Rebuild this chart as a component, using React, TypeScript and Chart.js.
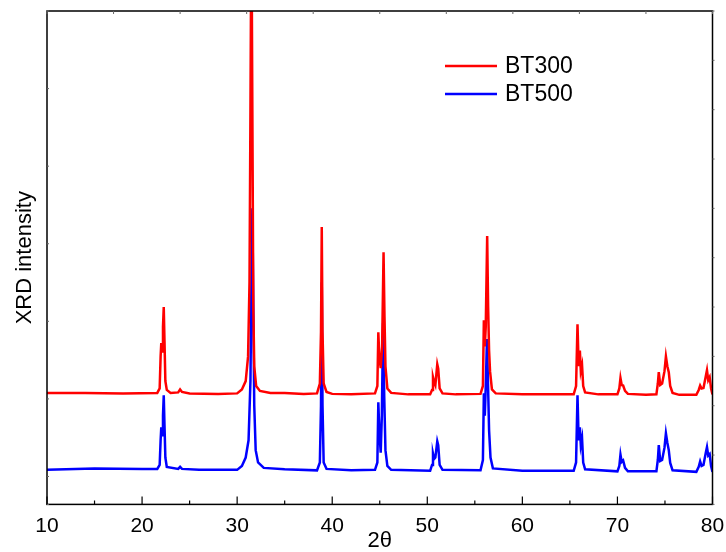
import React, { useEffect, useRef } from "react";
import { Chart, registerables } from "chart.js";

Chart.register(...registerables);

const seriesLabels = ["BT300", "BT500"];
const seriesColors = ["#ff0000", "#0000ff"];
const xTitle = "2θ";
const yTitle = "XRD intensity";
const xMin = 10;
const xMax = 80;
const xStep = 10;
const yMin = 0;
const yMax = 100;

const bt300TwoTheta = [
  10, 14, 18, 21.6, 21.85, 21.95, 22.02, 22.1, 22.2, 22.28, 22.36, 22.45, 22.6, 23.0, 23.8, 24.0, 24.2, 25, 28,
  30.0, 30.5, 30.9, 31.15, 31.3, 31.4, 31.5, 31.6, 31.7, 31.8, 32.0, 32.4, 33.5, 35, 37,
  38.4, 38.7, 38.82, 38.9, 38.98, 39.1, 39.4, 40, 42,
  44.5, 44.75, 44.85, 44.95, 45.1, 45.25, 45.4, 45.5, 45.6, 45.8, 46.2, 48,
  50.3, 50.5, 50.6, 50.7, 50.85, 51.05, 51.15, 51.3, 51.6, 53,
  55.6, 55.85, 55.95, 56.05, 56.15, 56.3, 56.4, 56.5, 56.6, 56.8, 57.2, 60,
  65.4, 65.65, 65.8, 65.92, 66.05, 66.15, 66.28, 66.4, 66.6, 68,
  70.0, 70.2, 70.32, 70.45, 70.6, 70.8, 71.1, 73,
  74.1, 74.25, 74.35, 74.5, 74.7, 74.95, 75.1, 75.25, 75.4, 75.55, 75.8, 76.5,
  78.3, 78.55, 78.7, 78.85, 79.05, 79.3, 79.42, 79.55, 79.7, 79.85, 80,
];
const bt300Intensity = [
  22.6, 22.6, 22.5, 22.6, 23.5, 30, 32.7, 31, 36, 40.0, 33, 25, 23.2, 22.6, 22.7, 23.3, 22.8, 22.5, 22.4,
  22.5, 23.3, 25.0, 30, 45, 80, 120, 80, 40, 28, 24.0, 23.0, 22.6, 22.6, 22.4,
  22.5, 24.5, 35, 56.2, 35, 24.5, 22.8, 22.4, 22.3,
  22.5, 24, 34.9, 30, 27.6, 32, 51.1, 38, 28, 23.5, 22.6, 22.3,
  22.3, 23.2, 25.8, 25, 24.2, 28.4, 27.5, 23.5, 22.5, 22.3,
  22.4, 24, 37.3, 32, 36, 54.4, 40, 31.2, 27, 23.3, 22.5, 22.3,
  22.3, 24, 36.5, 28, 31.2, 27, 28.2, 24, 22.7, 22.3,
  22.3, 23.5, 25.6, 24.2, 24.1, 23, 22.4, 22.2,
  22.3, 24.5, 26.8, 24.2, 24.5, 27, 30.0, 28, 26.8, 24, 22.6, 22.2,
  22.2, 23.2, 24.1, 23.5, 23.6, 26, 27.2, 25.2, 25.8, 23.5, 22.3,
];

const bt500TwoTheta = [
  10, 15, 20, 21.6, 21.85, 21.95, 22.02, 22.1, 22.2, 22.28, 22.36, 22.45, 22.6, 23.8, 24.0, 24.2, 26, 30,
  30.5, 30.9, 31.2, 31.4, 31.5, 31.6, 31.7, 31.8, 31.95, 32.2, 32.8, 35,
  38.4, 38.7, 38.82, 38.9, 38.98, 39.1, 39.4, 42,
  44.5, 44.75, 44.85, 44.95, 45.1, 45.22, 45.35, 45.47, 45.6, 45.8, 46.2,
  50.3, 50.5, 50.6, 50.72, 50.85, 51.05, 51.15, 51.3, 51.6,
  55.6, 55.85, 55.95, 56.05, 56.15, 56.28, 56.38, 56.5, 56.65, 56.9, 60,
  65.4, 65.65, 65.8, 65.92, 66.05, 66.15, 66.28, 66.4, 66.6,
  70.0, 70.2, 70.32, 70.45, 70.6, 70.8, 71.1,
  74.1, 74.25, 74.35, 74.5, 74.7, 74.95, 75.1, 75.25, 75.4, 75.55, 75.8,
  78.3, 78.55, 78.7, 78.85, 79.05, 79.3, 79.42, 79.55, 79.7, 79.85, 80,
];
const bt500Intensity = [
  7.0, 7.3, 7.2, 7.2, 8, 13, 15.6, 14, 18, 22.1, 16, 9.5, 7.6, 7.2, 7.6, 7.2, 7.0, 7.0,
  7.8, 9.5, 13, 25, 45, 60, 40, 20, 11, 8.5, 7.4, 7.1,
  6.9, 8.5, 20, 45, 20, 8.5, 7.2, 6.9,
  7.0, 8.5, 20.7, 15, 10.5, 18, 36.7, 22, 11, 7.8, 7.0,
  6.8, 8, 10.3, 9.2, 9.5, 12.8, 12, 8, 7.0,
  6.9, 9, 22.5, 18, 24, 33.5, 25, 15, 9.5, 7.3, 6.8,
  6.8, 8.5, 22.1, 13, 15.6, 12, 13.4, 8.5, 7.1,
  6.7, 7.8, 10.1, 8.6, 8.9, 7.4, 6.7,
  6.7, 9, 12.0, 8.8, 9, 11.5, 14.4, 12.5, 11.0, 8.4, 6.9,
  6.6, 7.6, 8.7, 7.8, 8, 10.5, 11.6, 9.9, 10.2, 7.8, 6.6,
];

const FONT = "'Liberation Sans', Arial, Helvetica, sans-serif";

const toPoints = (xs: number[], ys: number[]) => xs.map((x, i) => ({ x, y: ys[i] }));

const framePlugin = {
  id: "frameTicks",
  afterDatasetsDraw(chart: any) {
    const { ctx, chartArea: a, scales } = chart;
    ctx.save();
    ctx.strokeStyle = "#000";
    ctx.lineWidth = 1.5;
    ctx.strokeRect(a.left, a.top, a.right - a.left, a.bottom - a.top);
    ctx.lineWidth = 1.2;
    const xs = scales.x;
    const majors = xs.ticks.map((t: any) => t.value);
    ctx.beginPath();
    majors.forEach((v: number, i: number) => {
      const px = xs.getPixelForValue(v);
      ctx.moveTo(px, a.bottom);
      ctx.lineTo(px, a.bottom - 8);
      if (i < majors.length - 1) {
        const mx = xs.getPixelForValue((v + majors[i + 1]) / 2);
        ctx.moveTo(mx, a.bottom);
        ctx.lineTo(mx, a.bottom - 4);
      }
    });
    ctx.stroke();
    ctx.strokeStyle = "#666";
    ctx.lineWidth = 1;
    ctx.beginPath();
    const xt = scales.xTop;
    xt.ticks.forEach((t: any) => {
      const px = xt.getPixelForValue(t.value);
      ctx.moveTo(px, a.top);
      ctx.lineTo(px, a.top + 3);
    });
    const ys = scales.y;
    ys.ticks.forEach((t: any) => {
      const py = ys.getPixelForValue(t.value);
      ctx.moveTo(a.right, py);
      ctx.lineTo(a.right + 2, py);
    });
    const yl = scales.yLeft;
    yl.ticks.forEach((t: any) => {
      const py = yl.getPixelForValue(t.value);
      ctx.moveTo(a.left, py);
      ctx.lineTo(a.left + 2, py);
    });
    ctx.stroke();
    ctx.restore();
  },
};

const legendPlugin = {
  id: "insetLegend",
  afterDraw(chart: any) {
    const { ctx } = chart;
    const o = chart.options.plugins.insetLegend;
    ctx.save();
    ctx.font = `${o.fontSize}px ${FONT}`;
    ctx.textBaseline = "middle";
    ctx.textAlign = "left";
    chart.data.datasets.forEach((ds: any, i: number) => {
      const y = o.y + i * o.rowGap;
      ctx.strokeStyle = ds.borderColor;
      ctx.lineWidth = 2.5;
      ctx.beginPath();
      ctx.moveTo(o.x, y);
      ctx.lineTo(o.x + o.lineLen, y);
      ctx.stroke();
      ctx.fillStyle = "#000";
      ctx.fillText(ds.label, o.x + o.lineLen + o.gap, y + 1);
    });
    ctx.restore();
  },
};

export default function App() {
  const ref = useRef<HTMLCanvasElement | null>(null);
  useEffect(() => {
    if (!ref.current) return;
    const chart = new Chart(ref.current, {
      type: "line",
      data: {
        datasets: [
          {
            label: seriesLabels[0],
            data: toPoints(bt300TwoTheta, bt300Intensity),
            borderColor: seriesColors[0],
            backgroundColor: seriesColors[0],
            borderWidth: 2.5,
            pointRadius: 0,
            tension: 0,
          },
          {
            label: seriesLabels[1],
            data: toPoints(bt500TwoTheta, bt500Intensity),
            borderColor: seriesColors[1],
            backgroundColor: seriesColors[1],
            borderWidth: 2.5,
            pointRadius: 0,
            tension: 0,
          },
        ],
      },
      options: {
        animation: false,
        responsive: true,
        maintainAspectRatio: false,
        events: [],
        layout: { padding: { top: 11, right: 13.5, left: 0, bottom: 0 } },
        plugins: {
          legend: { display: false },
          tooltip: { enabled: false },
          insetLegend: { x: 445, y: 66, rowGap: 28, lineLen: 52, gap: 8, fontSize: 23 },
        } as any,
        scales: {
          x: {
            type: "linear",
            position: "bottom",
            min: xMin,
            max: xMax,
            grid: { display: false, drawTicks: false },
            border: { display: false },
            ticks: { stepSize: xStep, color: "#000", padding: 9, font: { family: FONT, size: 21 } },
            afterFit: (scale: any) => {
              scale.paddingLeft = 0;
              scale.paddingRight = 0;
            },
            title: {
              display: true,
              text: xTitle,
              color: "#000",
              font: { family: FONT, size: 22 },
              padding: { top: -19.5, bottom: -2.5 },
            },
          },
          xTop: {
            type: "linear",
            position: "top",
            min: 0,
            max: 10,
            display: false,
            ticks: { stepSize: 1 },
          },
          y: {
            type: "linear",
            position: "left",
            min: yMin,
            max: yMax,
            grid: { display: false, drawTicks: false },
            border: { display: false },
            ticks: { display: false, stepSize: 10 },
            title: {
              display: true,
              text: yTitle,
              color: "#000",
              font: { family: FONT, size: 22 },
              padding: { top: 12, bottom: 8.6 },
            },
          },
          yLeft: {
            type: "linear",
            position: "left",
            min: 0,
            max: 6.36,
            reverse: true,
            display: false,
            ticks: { stepSize: 1 },
          },
        },
      } as any,
      plugins: [framePlugin, legendPlugin],
    });
    return () => chart.destroy();
  }, []);
  return (
    <div style={{ position: "fixed", left: 0, top: 0, width: 726, height: 552, background: "#fff" }}>
      <canvas ref={ref} />
    </div>
  );
}
